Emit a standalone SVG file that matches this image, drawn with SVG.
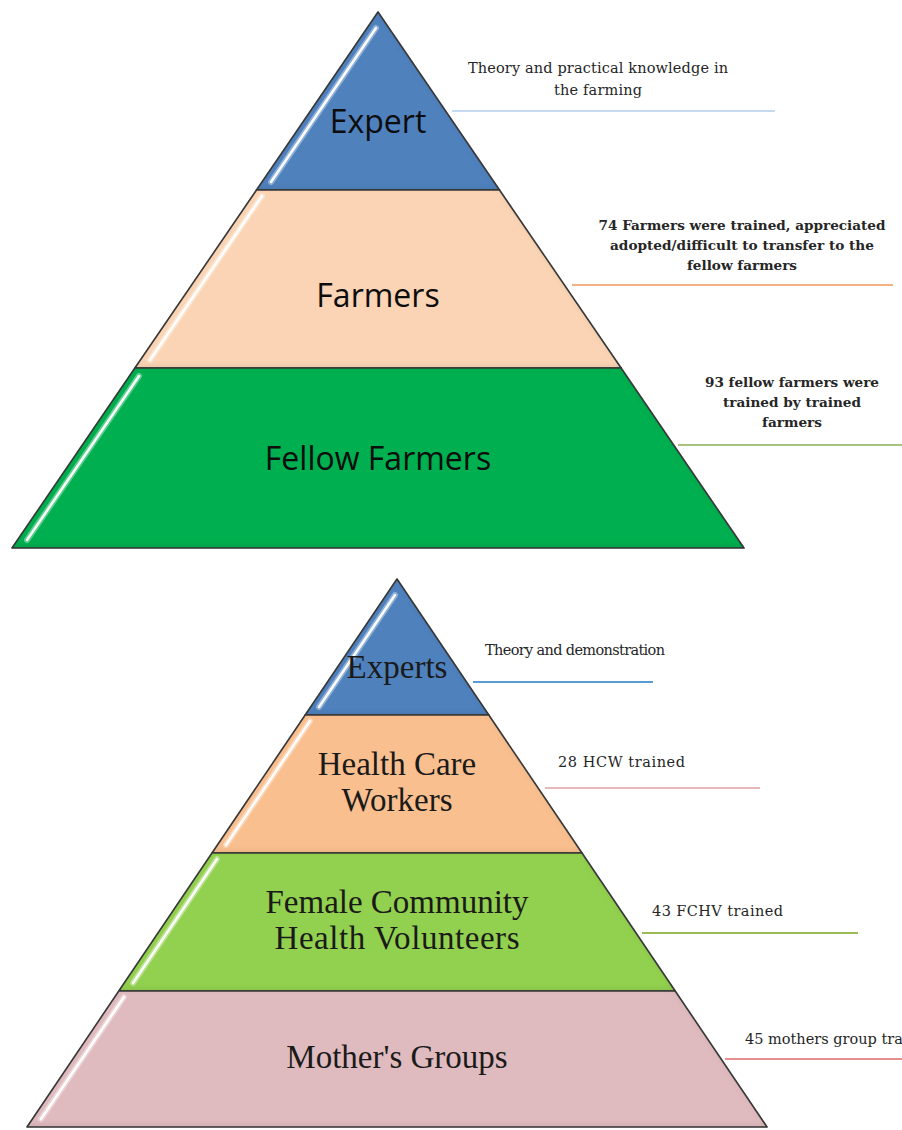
<svg xmlns="http://www.w3.org/2000/svg" width="902" height="1130" viewBox="0 0 902 1130">
  <defs>
    <!-- soft inner shading that gives each tier a slight bevel -->
    <filter id="bevel" x="-5%" y="-5%" width="110%" height="110%">
      <feComponentTransfer in="SourceAlpha" result="inv">
        <feFuncA type="table" tableValues="1 0"/>
      </feComponentTransfer>
      <feGaussianBlur in="inv" stdDeviation="3" result="b"/>
      <feOffset in="b" dx="-1" dy="-2" result="o"/>
      <feFlood flood-color="#000" flood-opacity="0.22"/>
      <feComposite in2="o" operator="in" result="s"/>
      <feComposite in="s" in2="SourceAlpha" operator="in" result="inner"/>
      <feMerge>
        <feMergeNode in="SourceGraphic"/>
        <feMergeNode in="inner"/>
      </feMerge>
    </filter>
    <filter id="soft" x="-20%" y="-20%" width="140%" height="140%">
      <feGaussianBlur stdDeviation="0.6"/>
    </filter>
    <style>
      .tier { stroke: #3a3a3a; stroke-width: 1.6; stroke-linejoin: round; filter: url(#bevel); }
      .glow { fill: none; stroke: #ffffff; stroke-opacity: 0.35; stroke-width: 6; stroke-linecap: round; }
      .shine { fill: none; stroke: #ffffff; stroke-opacity: 0.95; stroke-width: 2.6; stroke-linecap: round; filter: url(#soft); }
      .lab-sans { font-family: "Open Sans", "Liberation Sans", sans-serif; font-size: 32px; fill: #0d0d0d; text-anchor: middle; }
      .lab-serif { font-family: "Liberation Serif", "DejaVu Serif", serif; font-size: 33px; fill: #1a1a1a; text-anchor: middle; }
      .note { font-family: "DejaVu Serif", "Liberation Serif", serif; font-size: 14.5px; fill: #262626; }
      .note-b { font-family: "DejaVu Serif", "Liberation Serif", serif; font-size: 13.5px; font-weight: bold; fill: #262626; text-anchor: middle; }
      .mid { text-anchor: middle; }
      .lead { fill: none; stroke-width: 2; }
    </style>
  </defs>

  <rect width="902" height="1130" fill="#ffffff"/>

  <!-- ===== Farming pyramid ===== -->
  <g id="expert">
    <polygon class="tier" points="378,12 499.5,190 256.5,190" fill="#4f81bd"/>
    <line class="glow" x1="376" y1="28" x2="271" y2="182"/>
    <line class="shine" x1="376" y1="28" x2="271" y2="182"/>
    <text class="lab-sans" x="378" y="133">Expert</text>
  </g>
  <g id="farmers">
    <polygon class="tier" points="256.5,190 499.5,190 621.1,368 134.9,368" fill="#fad4b4"/>
    <line class="glow" x1="262" y1="196" x2="150" y2="360"/>
    <line class="shine" x1="262" y1="196" x2="150" y2="360"/>
    <text class="lab-sans" x="378" y="307">Farmers</text>
  </g>
  <g id="fellow-farmers">
    <polygon class="tier" points="134.9,368 621.1,368 744,548 12,548" fill="#00af50"/>
    <line class="glow" x1="139" y1="376" x2="27" y2="540"/>
    <line class="shine" x1="139" y1="376" x2="27" y2="540"/>
    <text class="lab-sans" x="378" y="470" font-size="32.5">Fellow Farmers</text>
  </g>

  <!-- ===== Health pyramid ===== -->
  <g id="experts">
    <polygon class="tier" points="397,579 488.8,715 305.2,715" fill="#4f81bd"/>
    <line class="glow" x1="395" y1="595" x2="319" y2="707"/>
    <line class="shine" x1="395" y1="595" x2="319" y2="707"/>
    <text class="lab-serif" x="397" y="678">Experts</text>
  </g>
  <g id="health-care-workers">
    <polygon class="tier" points="305.2,715 488.8,715 582,853 212,853" fill="#f9bf8f"/>
    <line class="glow" x1="310" y1="721" x2="226" y2="845"/>
    <line class="shine" x1="310" y1="721" x2="226" y2="845"/>
    <text class="lab-serif" x="397" y="775">Health Care</text>
    <text class="lab-serif" x="397" y="811">Workers</text>
  </g>
  <g id="fchv">
    <polygon class="tier" points="212,853 582,853 675.2,991 118.8,991" fill="#92d050"/>
    <line class="glow" x1="217" y1="859" x2="133" y2="983"/>
    <line class="shine" x1="217" y1="859" x2="133" y2="983"/>
    <text class="lab-serif" x="397" y="913" textLength="263">Female Community</text>
    <text class="lab-serif" x="397" y="949" textLength="245">Health Volunteers</text>
  </g>
  <g id="mothers-groups">
    <polygon class="tier" points="118.8,991 675.2,991 767,1127 27,1127" fill="#dfbabe"/>
    <line class="glow" x1="124" y1="997" x2="41" y2="1119"/>
    <line class="shine" x1="124" y1="997" x2="41" y2="1119"/>
    <text class="lab-serif" x="397" y="1068">Mother's Groups</text>
  </g>

  <!-- ===== leader lines ===== -->
  <g id="connectors">
    <line class="lead" x1="452" y1="111" x2="775" y2="111" stroke="#c6d9f1"/>
    <line class="lead" x1="572" y1="285" x2="893" y2="285" stroke="#f4b183"/>
    <line class="lead" x1="678" y1="445" x2="902" y2="445" stroke="#a9c47f"/>
    <line class="lead" x1="473" y1="682" x2="653" y2="682" stroke="#5b9bd5"/>
    <line class="lead" x1="545" y1="788" x2="760" y2="788" stroke="#e6b9b8" stroke-width="1.6"/>
    <line class="lead" x1="642" y1="933" x2="858" y2="933" stroke="#9bbb59" stroke-width="1.6"/>
    <line class="lead" x1="725" y1="1059" x2="902" y2="1059" stroke="#e58f8f" stroke-width="1.4"/>
  </g>

  <!-- ===== notes ===== -->
  <g id="notes">
    <text class="note mid" x="598" y="73" textLength="260">Theory and practical knowledge in</text>
    <text class="note mid" x="598" y="95" textLength="88">the farming</text>

    <text class="note-b" x="742" y="230" textLength="287" lengthAdjust="spacingAndGlyphs">74 Farmers were trained, appreciated</text>
    <text class="note-b" x="742" y="250" textLength="264" lengthAdjust="spacingAndGlyphs">adopted/difficult to transfer to the</text>
    <text class="note-b" x="742" y="270" textLength="110" lengthAdjust="spacingAndGlyphs">fellow farmers</text>

    <text class="note-b" x="792" y="387" textLength="174" lengthAdjust="spacingAndGlyphs">93 fellow farmers were</text>
    <text class="note-b" x="792" y="407" textLength="138" lengthAdjust="spacingAndGlyphs">trained by trained</text>
    <text class="note-b" x="792" y="427" textLength="60" lengthAdjust="spacingAndGlyphs">farmers</text>

    <text class="note" x="485" y="655" textLength="180">Theory and demonstration</text>
    <text class="note" x="558" y="767" textLength="127">28 HCW trained</text>
    <text class="note" x="652" y="916" textLength="131">43 FCHV trained</text>
    <text class="note" x="745" y="1044" font-size="15">45 mothers group trained</text>
  </g>
</svg>
